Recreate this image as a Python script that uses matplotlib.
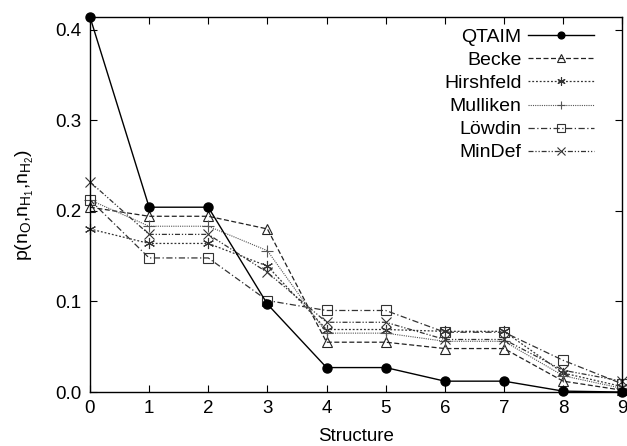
import matplotlib.pyplot as plt

plt.rcParams['font.family'] = ['Liberation Sans', 'DejaVu Sans']

structure = list(range(10))
qtaim = [0.414, 0.204, 0.204, 0.097, 0.027, 0.027, 0.012, 0.012, 0.001, 0.0]
becke = [0.204, 0.194, 0.194, 0.180, 0.055, 0.055, 0.048, 0.048, 0.012, 0.002]
hirshfeld = [0.180, 0.164, 0.164, 0.139, 0.069, 0.069, 0.067, 0.067, 0.021, 0.006]
mulliken = [0.212, 0.183, 0.183, 0.156, 0.065, 0.065, 0.056, 0.056, 0.018, 0.004]
lowdin = [0.212, 0.148, 0.148, 0.101, 0.090, 0.090, 0.066, 0.066, 0.035, 0.009]
mindef = [0.232, 0.174, 0.174, 0.132, 0.077, 0.077, 0.058, 0.058, 0.024, 0.012]

fig = plt.figure(figsize=(6.27, 4.46), dpi=100)
ax = fig.add_axes([0.1435, 0.121, 0.849, 0.841])

ax.plot(structure, qtaim, color='black', lw=1.0, marker='o', ms=6.5,
        label='QTAIM', clip_on=False, zorder=5)
ax.plot(structure, becke, color='#222222', lw=0.9, ls=(0, (4, 2)), marker='^',
        ms=7, mfc='none', mew=0.8, label='Becke', clip_on=False)
ax.plot(structure, hirshfeld, color='#333333', lw=0.9, ls=(0, (1.5, 1.5)), marker=(6, 2, 0),
        ms=8, mew=0.8, label='Hirshfeld', clip_on=False)
ax.plot(structure, mulliken, color='#555555', lw=0.8, ls=(0, (1, 1)), marker='+',
        ms=8, mew=0.8, label='Mulliken', clip_on=False)
ax.plot(structure, lowdin, color='#333333', lw=0.9, ls=(0, (5, 2, 1, 2)), marker='s',
        ms=7, mfc='none', mew=0.8, label='Löwdin', clip_on=False)
ax.plot(structure, mindef, color='#333333', lw=0.9, ls=(0, (4, 1.5, 1, 1.5, 1, 1.5)), marker='x',
        ms=7, mew=0.8, label='MinDef', clip_on=False)

ax.set_xlim(0, 9)
ax.set_ylim(0, 0.414)
ax.set_xticks(structure)
ax.set_yticks([0.0, 0.1, 0.2, 0.3, 0.4])
ax.set_yticklabels(['0.0', '0.1', '0.2', '0.3', '0.4'])
ax.tick_params(direction='in', top=True, right=True, labelsize=13.5, length=5, pad=6)
for s in ax.spines.values():
    s.set_linewidth(1.0)

ax.set_xlabel('Structure', fontsize=13.5, labelpad=8)
ax.set_ylabel(r'p(n$_\mathregular{O}$,n$_\mathregular{H_1}$,n$_\mathregular{H_2}$)', fontsize=14, labelpad=14)

ax.legend(loc='upper right', frameon=False, markerfirst=False, fontsize=14, markerscale=0.75,
          handlelength=3.4, labelspacing=0.28, borderaxespad=0, borderpad=0,
          handletextpad=0.35, bbox_to_anchor=(0.948, 0.936), bbox_transform=fig.transFigure)

fig.savefig('out.png', dpi=100)
